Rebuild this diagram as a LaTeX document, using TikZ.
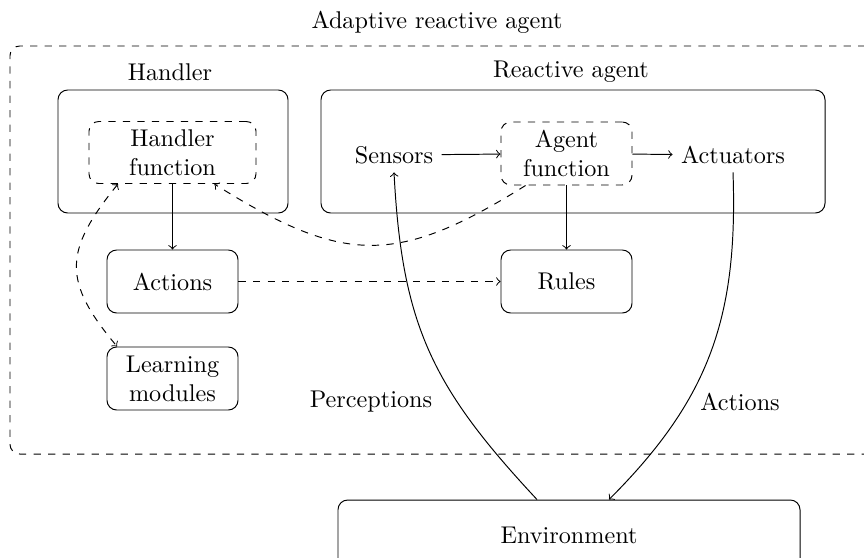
\documentclass[tikz,border=0pt]{standalone}
\usetikzlibrary{arrows}
\begin{document}
\begin{tikzpicture}[x=0.413pt,y=-0.413pt,
  box/.style={draw,rounded corners=4pt,align=center,inner sep=0pt},
  dbox/.style={draw,dashed,rounded corners=4pt,align=center,inner sep=0pt},
  lbl/.style={inner sep=0pt},
  arr/.style={->},
  darr/.style={->,dashed}]
\useasboundingbox (0,0) rectangle (864,557);
% outer
\node[lbl] (title) at (437,22) {Adaptive reactive agent};
\draw[dashed,rounded corners=4pt] (880,46) -- (10,46) -- (10,454) -- (880,454);
% handler
\node[lbl] (hlabel) at (170,72) {Handler};
\node[box,minimum width=230*0.413pt,minimum height=123*0.413pt] (handler) at (173,151.5) {};
\node[dbox,minimum width=167*0.413pt,minimum height=62*0.413pt] (hf) at (172.5,152.5) {Handler\\function};
% reactive
\node[lbl] (rlabel) at (571,72) {Reactive agent};
\node[box,minimum width=504*0.413pt,minimum height=123*0.413pt] (reactive) at (573,151.5) {};
\node (sensors) at (394,155) {Sensors};
\node[dbox,minimum width=131*0.413pt,minimum height=63*0.413pt] (af) at (566.5,153.5) {Agent\\function};
\node (act) at (733,155) {Actuators};
% lower boxes
\node[box,minimum width=131*0.413pt,minimum height=63*0.413pt] (actions) at (172.5,281.5) {Actions};
\node[box,minimum width=131*0.413pt,minimum height=63*0.413pt] (rules) at (566.5,281.5) {Rules};
\node[box,minimum width=131*0.413pt,minimum height=63*0.413pt] (lm) at (172.5,378.5) {Learning\\modules};
\node[box,minimum width=462*0.413pt,minimum height=70*0.413pt] (env) at (569,535) {Environment};
\node[lbl] (perc) at (371,402) {Perceptions};
\node[lbl] (actl) at (740,402) {Actions};
% connectors
\draw[arr] (sensors) -- (af);
\draw[arr] (af) -- (act);
\draw[arr] (hf) -- (actions);
\draw[arr] (af) -- (rules);
\draw[darr] (actions) -- (rules);
\draw[darr] (af.218) to[out=212,in=-32,looseness=1.25] (hf.-37);
\draw[<->,dashed] (hf.210) to[out=231,in=130,looseness=1.35] (lm.150);
\draw[arr] ([xshift=-32*0.413pt]env.north) to[out=133,in=-87,looseness=1.1] (sensors.south);
\draw[arr] (act.south) to[out=-88,in=45,looseness=1.05] ([xshift=40*0.413pt]env.north);
\end{tikzpicture}
\end{document}
